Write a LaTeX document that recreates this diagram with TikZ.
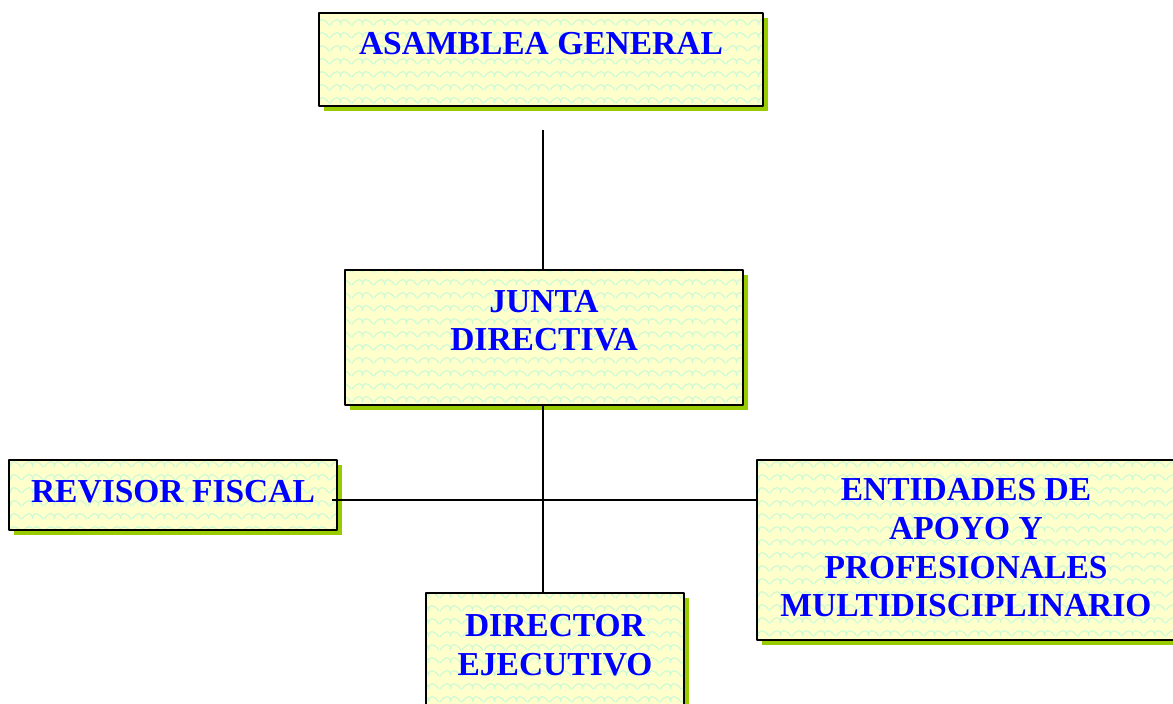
\documentclass[tikz,border=0pt]{standalone}
\usepackage{fontspec}
\setmainfont{Liberation Serif}
\usetikzlibrary{shadows,patterns}
\definecolor{boxfill}{RGB}{255,255,204}
\definecolor{boxwave}{RGB}{200,250,215}
\definecolor{shadowgreen}{RGB}{153,204,0}
\definecolor{textblue}{RGB}{0,0,255}
\pgfdeclarepatternformonly{waves}{\pgfpointorigin}{\pgfpoint{22bp}{13bp}}{\pgfpoint{22bp}{13bp}}{%
  \pgfsetlinewidth{1.1bp}
  \pgfpathmoveto{\pgfpoint{0bp}{3bp}}
  \pgfpathcurveto{\pgfpoint{5.5bp}{11bp}}{\pgfpoint{11bp}{11bp}}{\pgfpoint{11bp}{3bp}}
  \pgfpathcurveto{\pgfpoint{11bp}{11bp}}{\pgfpoint{16.5bp}{11bp}}{\pgfpoint{22bp}{3bp}}
  \pgfusepath{stroke}}
\tikzset{
  orgbox/.style={
    drop shadow={shadow xshift=5bp,shadow yshift=-5bp,fill=shadowgreen,opacity=1},
    preaction={fill=boxfill},
    pattern=waves,pattern color=boxwave,draw=black,line width=1.4bp,
    inner sep=0pt,align=center,text=textblue,
    font=\bfseries\fontsize{33.5bp}{38.7bp}\selectfont},
  orgline/.style={black,line width=1.4bp},
}
\begin{document}
\begin{tikzpicture}[line join=bevel,]
%%
\useasboundingbox (0bp,0bp) rectangle (1173bp,704bp);
\node (node_0) at (541bp,644.5bp) [orgbox,minimum width=444bp,text height=42bp,text depth=51bp] {ASAMBLEA GENERAL};
  \node (node_1) at (544bp,366.5bp) [orgbox,minimum width=398bp,text height=81bp,text depth=54bp] {JUNTA\\DIRECTIVA};
  \node (node_2) at (173bp,209bp) [orgbox,minimum width=328bp,text height=43bp,text depth=27bp] {REVISOR FISCAL};
  \node (node_3) at (966bp,154bp) [orgbox,minimum width=418bp,text height=157bp,text depth=23bp] {ENTIDADES DE\\APOYO Y\\PROFESIONALES\\MULTIDISCIPLINARIO};
  \node (node_4) at (555bp,47.5bp) [orgbox,minimum width=258bp,text height=82bp,text depth=45bp] {DIRECTOR\\EJECUTIVO};
  \coordinate (c_0) at (543bp,574bp);
  \coordinate (c_1) at (332bp,204bp);
  \draw [orgline] (c_0) -- (c_0 |- node_1.north);
  \draw [orgline] (c_0 |- node_1.south) -- (c_0 |- node_4.north);
  \draw [orgline] (c_1) -- (c_1 -| node_3.west);
%
\end{tikzpicture}
\end{document}
